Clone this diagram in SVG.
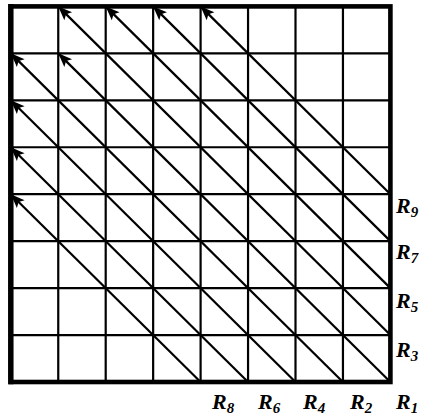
<svg xmlns="http://www.w3.org/2000/svg" width="422" height="417" viewBox="0 0 422 417">
<style>
.grid{stroke:#000;stroke-width:2.2;fill:none}
.border{stroke:#000;stroke-width:4.6;fill:none}
.diag{stroke:#000;stroke-width:2.2;fill:none;marker-start:url(#ah)}
.lbl{font-family:"Liberation Serif","Times New Roman",serif;font-weight:bold;font-style:italic;font-size:22px;fill:#000}
.sub{font-size:15px}
</style>
<defs>
<marker id="ah" markerUnits="userSpaceOnUse" markerWidth="18" markerHeight="14" refX="0" refY="0" viewBox="-16 -7 18 14" orient="auto-start-reverse" overflow="visible">
<path d="M0,0 L-14,-5.5 L-11,0 L-14,5.5 Z" fill="#000"/>
</marker>
</defs>
<rect width="422" height="417" fill="#fff"/>
<g id="grid">
<path class="grid" d="M58.25,6.4V382 M105.7,6.4V382 M153.15,6.4V382 M200.6,6.4V382 M248.05,6.4V382 M295.5,6.4V382 M342.95,6.4V382 M10.8,53.35H390.4 M10.8,100.3H390.4 M10.8,147.25H390.4 M10.8,194.2H390.4 M10.8,241.15H390.4 M10.8,288.1H390.4 M10.8,335.05H390.4"/>
</g>
<g id="connectors">
<line class="diag" x1="200.6" y1="6.4" x2="390.4" y2="194.2"/>
<line class="diag" x1="153.15" y1="6.4" x2="390.4" y2="241.15"/>
<line class="diag" x1="105.7" y1="6.4" x2="390.4" y2="288.1"/>
<line class="diag" x1="58.25" y1="6.4" x2="390.4" y2="335.05"/>
<line class="diag" x1="58.25" y1="53.35" x2="390.4" y2="382"/>
<line class="diag" x1="10.8" y1="53.35" x2="342.95" y2="382"/>
<line class="diag" x1="10.8" y1="100.3" x2="295.5" y2="382"/>
<line class="diag" x1="10.8" y1="147.25" x2="248.05" y2="382"/>
<line class="diag" x1="10.8" y1="194.2" x2="200.6" y2="382"/>
</g>
<g id="frame">
<rect class="border" x="10.8" y="6.4" width="379.6" height="375.6"/>
<line x1="10.8" y1="4" x2="10.8" y2="384.3" stroke="#000" stroke-width="5.4"/>
</g>
<g id="labels">
<text id="R9" class="lbl" x="396" y="213">R<tspan class="sub" dy="4">9</tspan></text>
<text id="R7" class="lbl" x="396" y="259">R<tspan class="sub" dy="4">7</tspan></text>
<text id="R5" class="lbl" x="396" y="308">R<tspan class="sub" dy="4">5</tspan></text>
<text id="R3" class="lbl" x="396" y="357">R<tspan class="sub" dy="4">3</tspan></text>
<text id="R1" class="lbl" x="396" y="409">R<tspan class="sub" dy="4">1</tspan></text>
<text id="R2" class="lbl" x="350" y="409">R<tspan class="sub" dy="4">2</tspan></text>
<text id="R4" class="lbl" x="303" y="409">R<tspan class="sub" dy="4">4</tspan></text>
<text id="R6" class="lbl" x="258" y="409">R<tspan class="sub" dy="4">6</tspan></text>
<text id="R8" class="lbl" x="212" y="409">R<tspan class="sub" dy="4">8</tspan></text>
</g>
</svg>
